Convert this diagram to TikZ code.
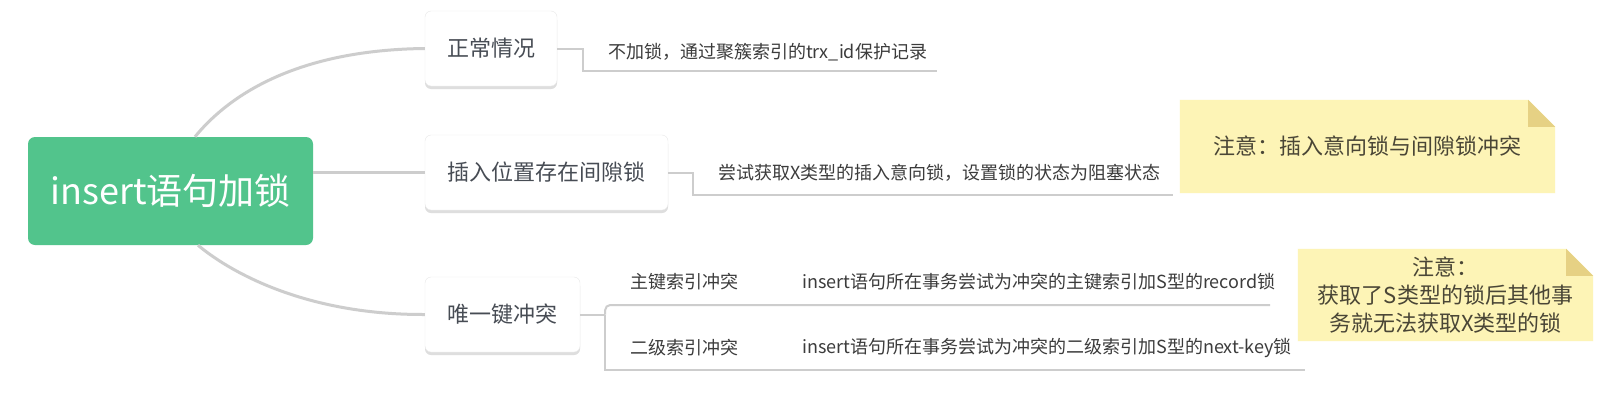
\documentclass[tikz,border=0pt]{standalone}
\usepackage{fontspec}
\setmainfont{Noto Sans CJK SC}
\usetikzlibrary{shadows,backgrounds}
\definecolor{rootgreen}{HTML}{52C48C}
\definecolor{branchgray}{HTML}{CDCDCD}
\definecolor{boxtext}{HTML}{474C54}
\definecolor{desctext}{HTML}{3C3C3C}
\definecolor{notefill}{HTML}{FDF4B6}
\definecolor{notefold}{HTML}{E6D184}
\definecolor{notetext}{HTML}{4A4636}
\tikzset{
  rootbox/.style={fill=rootgreen, rounded corners=7pt, text=white, minimum width=285pt, minimum height=108pt, font=\fontsize{36}{40}\selectfont},
  topicbox/.style={fill=white, draw=black!9, rounded corners=6pt, minimum height=75pt, inner xsep=0pt, text=boxtext, font=\fontsize{22}{26}\selectfont, drop shadow={shadow xshift=0pt, shadow yshift=-3pt, fill=black!13, opacity=1}},
  desc/.style={anchor=west, inner sep=0pt, text=desctext, font=\fontsize{18}{22}\selectfont},
  notebox/.style={inner sep=0pt, text=notetext, align=center, font=\fontsize{22}{28}\selectfont},
  branch/.style={draw=branchgray, line width=3pt},
  subline/.style={draw=branchgray, line width=2pt}
}
\begin{document}
\begin{tikzpicture}[x=1pt, y=-1pt]
    \useasboundingbox (0,0) rectangle (1607,402);
    \node[rootbox] (root) at (170.5,191) {insert语句加锁};
    \node[topicbox, minimum width=132pt] (n1) at (491,48.5) {正常情况};
    \node[topicbox, minimum width=243pt] (n2) at (546.5,172.5) {插入位置存在间隙锁};
    \node[topicbox, minimum width=155pt] (n3) at (502.5,314.5) {唯一键冲突};
    \draw[branch] ([xshift=24.5pt]root.north) .. controls (225,100) and (290,50) .. (n1.west);
    \draw[branch] (n2.west) -- (n2.west -| root.east);
    \draw[branch] ([xshift=27.5pt]root.south) .. controls (225,268) and (300,315) .. (n3.west);
    \node[desc] (d1) at (608,52) {不加锁，通过聚簇索引的trx\_id保护记录};
    \node[desc] (d2) at (718,173) {尝试获取X类型的插入意向锁，设置锁的状态为阻塞状态};
    \coordinate (u1) at (937,71);
    \coordinate (u2) at (1173,195);
    \draw[subline] (n1.east) -- ++(26,0) |- (u1);
    \draw[subline] (n2.east) -- ++(25,0) |- (u2);
    \node[desc] (k1) at (630,282) {主键索引冲突};
    \node[desc] (k2) at (630,348) {二级索引冲突};
    \node[desc] (r1) at (802,282) {insert语句所在事务尝试为冲突的主键索引加S型的record锁};
    \node[desc] (r2) at (802,348) {insert语句所在事务尝试为冲突的二级索引加S型的next-key锁};
    \coordinate (u3) at (1270,305);
    \coordinate (u4) at (1305,370);
    \draw[subline] (n3.east) -- ++(25,0) coordinate (fork);
    \draw[subline, rounded corners=5pt] (fork) |- (u3);
    \draw[subline] (fork) |- (u4);
    \node[notebox, minimum width=375pt, minimum height=93pt] (note1) at (1367.5,146.5) {注意：插入意向锁与间隙锁冲突};
    \node[notebox, minimum width=295pt, minimum height=92pt] (note2) at (1445.5,295) {注意：\\获取了S类型的锁后其他事\\务就无法获取X类型的锁};
    \begin{scope}[on background layer]
      \fill[white] (0,0) rectangle (1607,402);
      \fill[notefill] (note1.south west) |- ([xshift=-27pt]note1.north east) -- ([yshift=-27pt]note1.north east) -- (note1.south east) -- cycle;
      \fill[notefold] ([xshift=-27pt]note1.north east) |- ([yshift=-27pt]note1.north east) -- cycle;
      \fill[notefill] (note2.south west) |- ([xshift=-27pt]note2.north east) -- ([yshift=-27pt]note2.north east) -- (note2.south east) -- cycle;
      \fill[notefold] ([xshift=-27pt]note2.north east) |- ([yshift=-27pt]note2.north east) -- cycle;
    \end{scope}
\end{tikzpicture}
\end{document}
